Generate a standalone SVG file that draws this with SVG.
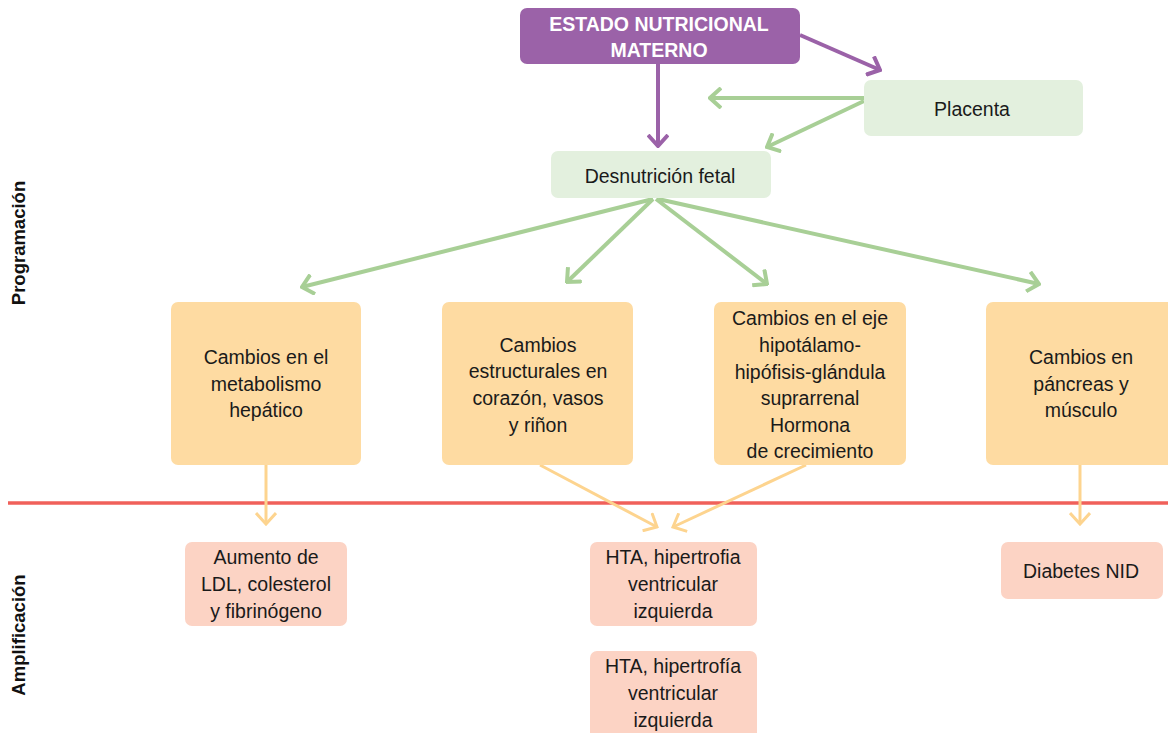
<svg xmlns="http://www.w3.org/2000/svg" width="1168" height="733" viewBox="0 0 1168 733">
<defs>
<style>
text{font-family:"Liberation Sans",Arial,sans-serif;font-size:19.5px;fill:#1a1a1a;text-anchor:middle}
.hdr{fill:#fff;font-weight:bold}
.side{font-weight:bold;font-size:18.5px;fill:#111}
.purple{fill:#9b62a8}
.green{fill:#e3f0de}
.orange{fill:#fedba2}
.pink{fill:#fcd3c4}
.lp{stroke:#9b62a8;stroke-width:4;fill:none}
.lg{stroke:#a8cf96;stroke-width:4;fill:none}
.lo{stroke:#fdd48f;stroke-width:3;fill:none}
</style>
<marker id="ap" viewBox="0 0 14 22" refX="12" refY="11" markerWidth="14" markerHeight="22" markerUnits="userSpaceOnUse" orient="auto"><path d="M1,1 L12,11 L1,21" stroke="#9b62a8" stroke-width="4" fill="none"/></marker>
<marker id="ag" viewBox="0 0 14 22" refX="12" refY="11" markerWidth="14" markerHeight="22" markerUnits="userSpaceOnUse" orient="auto"><path d="M1,1 L12,11 L1,21" stroke="#a8cf96" stroke-width="4" fill="none"/></marker>
<marker id="ao" viewBox="0 0 14 22" refX="12" refY="11" markerWidth="14" markerHeight="22" markerUnits="userSpaceOnUse" orient="auto"><path d="M1,1 L12,11 L1,21" stroke="#fdd48f" stroke-width="3" fill="none"/></marker>
</defs>
<rect width="1168" height="733" fill="#fff"/>

<g id="labels">
<text class="side" transform="translate(25,243) rotate(-90)">Programación</text>
<text class="side" transform="translate(25,635) rotate(-90)">Amplificación</text>
</g>

<line x1="8" y1="503" x2="1168" y2="503" stroke="#f0605a" stroke-width="3.5"/>

<g id="connectors">
<line class="lp" x1="658" y1="64" x2="658" y2="146" marker-end="url(#ap)"/>
<line class="lp" x1="800" y1="35" x2="880" y2="70" marker-end="url(#ap)"/>
<line class="lg" x1="864" y1="98" x2="710" y2="98" marker-end="url(#ag)"/>
<line class="lg" x1="864" y1="101" x2="767" y2="147" marker-end="url(#ag)"/>
<line class="lg" x1="653" y1="199" x2="302" y2="287" marker-end="url(#ag)"/>
<line class="lg" x1="653" y1="199" x2="567" y2="282" marker-end="url(#ag)"/>
<line class="lg" x1="656" y1="199" x2="767" y2="284" marker-end="url(#ag)"/>
<line class="lg" x1="658" y1="199" x2="1039" y2="284" marker-end="url(#ag)"/>
<line class="lo" x1="266" y1="465" x2="266" y2="524" marker-end="url(#ao)"/>
<line class="lo" x1="540" y1="465" x2="657" y2="527" marker-end="url(#ao)"/>
<line class="lo" x1="806" y1="465" x2="673" y2="527" marker-end="url(#ao)"/>
<line class="lo" x1="1080" y1="465" x2="1080" y2="524" marker-end="url(#ao)"/>
</g>

<g id="estado">
<rect class="purple" x="520" y="8" width="280" height="56" rx="7"/>
<text class="hdr" x="659" y="31">ESTADO NUTRICIONAL</text>
<text class="hdr" x="659" y="57">MATERNO</text>
</g>
<g id="placenta">
<rect class="green" x="864" y="80" width="219" height="56" rx="7"/>
<text x="972" y="116">Placenta</text>
</g>
<g id="desnutricion">
<rect class="green" x="551" y="151" width="220" height="47" rx="7"/>
<text x="660" y="183">Desnutrición fetal</text>
</g>

<g id="hepatico">
<rect class="orange" x="171" y="302" width="190" height="163" rx="7"/>
<text x="266" y="364">Cambios en el</text>
<text x="266" y="391">metabolismo</text>
<text x="266" y="417">hepático</text>
</g>
<g id="estructurales">
<rect class="orange" x="442" y="302" width="191" height="163" rx="7"/>
<text x="538" y="352">Cambios</text>
<text x="538" y="378">estructurales en</text>
<text x="538" y="405">corazón, vasos</text>
<text x="538" y="432">y riñon</text>
</g>
<g id="eje">
<rect class="orange" x="714" y="302" width="192" height="163" rx="7"/>
<text x="810" y="325">Cambios en el eje</text>
<text x="810" y="352">hipotálamo-</text>
<text x="810" y="379">hipófisis-glándula</text>
<text x="810" y="405">suprarrenal</text>
<text x="810" y="432">Hormona</text>
<text x="810" y="458">de crecimiento</text>
</g>
<g id="pancreas">
<rect class="orange" x="986" y="302" width="192" height="163" rx="7"/>
<text x="1081" y="364">Cambios en</text>
<text x="1081" y="391">páncreas y</text>
<text x="1081" y="417">músculo</text>
</g>

<g id="ldl">
<rect class="pink" x="185" y="542" width="162" height="84" rx="7"/>
<text x="266" y="564">Aumento de</text>
<text x="266" y="591">LDL, colesterol</text>
<text x="266" y="618">y fibrinógeno</text>
</g>
<g id="hta1">
<rect class="pink" x="590" y="542" width="167" height="84" rx="7"/>
<text x="673" y="564">HTA, hipertrofia</text>
<text x="673" y="591">ventricular</text>
<text x="673" y="618">izquierda</text>
</g>
<g id="diabetes">
<rect class="pink" x="1001" y="542" width="162" height="57" rx="7"/>
<text x="1081" y="578">Diabetes NID</text>
</g>
<g id="hta2">
<rect class="pink" x="590" y="651" width="167" height="90" rx="7"/>
<text x="673" y="673">HTA, hipertrofía</text>
<text x="673" y="700">ventricular</text>
<text x="673" y="727">izquierda</text>
</g>
</svg>
